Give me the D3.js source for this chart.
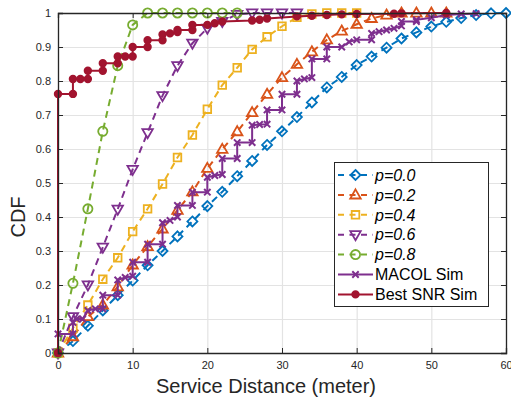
<!DOCTYPE html>
<html>
<head>
<meta charset="utf-8">
<script src="https://cdn.jsdelivr.net/npm/d3@7"></script>
<style>
  body { margin: 0; background: #fff; }
  svg { display: block; font-family: "Liberation Sans", Arial, Helvetica, sans-serif; }
</style>
</head>
<body>
<svg id="chart" width="511" height="398"></svg>
<script>
// data
const distP00 = [0,2,4,6,8,10,12,14,16,18,20,22,24,26,28,30,32,34,36,38,40,42,44,46,48,50,52,54,56,58,60];
const cdfP00 = [0,0.035,0.08,0.125,0.17,0.213,0.258,0.30,0.343,0.387,0.432,0.474,0.52,0.565,0.612,0.652,0.694,0.737,0.781,0.812,0.847,0.872,0.898,0.925,0.943,0.96,0.974,0.985,0.994,0.999,1.0];

const distP02 = [0,2,4,6,8,10,12,14,16,18,20,22,24,26,28,30,32,34,36,38,40,42,44,46,48,50,52];
const cdfP02 = [0,0.048,0.107,0.141,0.195,0.259,0.313,0.365,0.42,0.474,0.543,0.599,0.651,0.707,0.761,0.81,0.849,0.886,0.921,0.947,0.967,0.984,0.994,1,1,1,1];

const distP04 = [0,2,4,6,8,10,12,14,16,18,20,22,24,26,28,30,32,34,36,38,40];
const cdfP04 = [0,0.073,0.141,0.217,0.28,0.357,0.424,0.497,0.575,0.641,0.717,0.788,0.839,0.893,0.93,0.961,0.987,0.997,1,1,1];

const distP06 = [0,2,4,6,8,10,12,14,16,18,20,22,24,26,28,30,32];
const cdfP06 = [0,0.107,0.2,0.311,0.423,0.54,0.648,0.757,0.845,0.911,0.955,0.975,0.996,1,1,1,1];

const distP08 = [0,2,4,6,8,10,12,14,16,18,20,22,24];
const cdfP08 = [0,0.205,0.424,0.652,0.845,0.965,1,1,1,1,1,1,1];

const distMacol = [0,0,2,2,2.5,3.3,4,5,6,6,8,8,9,10,10,12,12,14,14,15,16,16,18,18,20,20,21,22,22,24,24,26,26,27,28,28,30,30,32,32,33,34,34,36,36,38,39,40,42,42,43,44,45,46,46,48,48,50,52,54,56];
const cdfMacol = [0,0.056,0.056,0.09,0.1,0.1,0.125,0.13,0.13,0.17,0.17,0.215,0.222,0.226,0.267,0.267,0.32,0.32,0.383,0.39,0.4,0.434,0.434,0.473,0.473,0.517,0.522,0.525,0.572,0.572,0.619,0.619,0.67,0.672,0.673,0.715,0.715,0.761,0.761,0.8,0.806,0.81,0.865,0.865,0.9,0.9,0.915,0.921,0.921,0.94,0.945,0.95,0.955,0.962,0.975,0.975,0.98,0.986,0.994,0.997,0.998];

const distSnr = [0,0,2,2,3,4,4,6,6,8,8,9,10,10,12,12,14,14,15,16,16,18,18,20,21,22,26,27,28,32,34,36,38,40,45,46,52];
const cdfSnr = [0,0.762,0.762,0.806,0.806,0.806,0.83,0.83,0.852,0.852,0.872,0.872,0.872,0.9,0.9,0.92,0.92,0.937,0.94,0.944,0.95,0.95,0.965,0.965,0.97,0.975,0.978,0.98,0.984,0.99,0.992,0.994,0.996,0.997,0.998,0.999,1];

const xTicks = [0,10,20,30,40,50,60];
const yTicks = [0,0.1,0.2,0.3,0.4,0.5,0.6,0.7,0.8,0.9,1];
const seriesNames = ["p=0.0","p=0.2","p=0.4","p=0.6","p=0.8","MACOL Sim","Best SNR Sim"];

// style
const margin = { top: 13, right: 5, bottom: 45, left: 58 };
const width = 511 - margin.left - margin.right;
const height = 398 - margin.top - margin.bottom;
const axisColor = "#262626";

const svg = d3.select("#chart");
const g = svg.append("g").attr("transform", "translate(" + margin.left + "," + margin.top + ")");

const x = d3.scaleLinear().domain([0, 60]).range([0, width]);
const y = d3.scaleLinear().domain([0, 1]).range([height, 0]);

// grid
g.append("g")
  .attr("transform", "translate(0," + height + ")")
  .call(d3.axisBottom(x).tickValues(xTicks).tickSize(-height).tickFormat(""))
  .call((s) => s.select(".domain").remove())
  .call((s) => s.selectAll("line").attr("stroke", "#e3e3e3").attr("stroke-width", 1.2));
g.append("g")
  .call(d3.axisLeft(y).tickValues(yTicks).tickSize(-width).tickFormat(""))
  .call((s) => s.select(".domain").remove())
  .call((s) => s.selectAll("line").attr("stroke", "#e3e3e3").attr("stroke-width", 1.2));

// marker shapes
function markerPath(kind, r) {
  if (kind === "diamond") return "M0," + (-r) + "L" + r + ",0L0," + r + "L" + (-r) + ",0Z";
  if (kind === "up") return "M0," + (-r) + "L" + (r * 0.95) + "," + (r * 0.65) + "L" + (-r * 0.95) + "," + (r * 0.65) + "Z";
  if (kind === "down") return "M0," + r + "L" + (r * 0.95) + "," + (-r * 0.65) + "L" + (-r * 0.95) + "," + (-r * 0.65) + "Z";
  if (kind === "square") return "M" + (-r) + "," + (-r) + "H" + r + "V" + r + "H" + (-r) + "Z";
  if (kind === "x") return "M" + (-r) + "," + (-r) + "L" + r + "," + r + "M" + (-r) + "," + r + "L" + r + "," + (-r);
  return null;
}

const series = [
  { name: seriesNames[0], xs: distP00, ys: cdfP00, color: "#0072BD", dash: "7,5", marker: "diamond", size: 5 },
  { name: seriesNames[1], xs: distP02, ys: cdfP02, color: "#D95319", dash: "7,5", marker: "up", size: 5.5 },
  { name: seriesNames[2], xs: distP04, ys: cdfP04, color: "#EDB120", dash: "7,5", marker: "square", size: 3.8 },
  { name: seriesNames[3], xs: distP06, ys: cdfP06, color: "#7E2F8E", dash: "7,5", marker: "down", size: 5.5 },
  { name: seriesNames[4], xs: distP08, ys: cdfP08, color: "#77AC30", dash: "7,5", marker: "circle", size: 4.6 },
  { name: seriesNames[5], xs: distMacol, ys: cdfMacol, color: "#7E2F8E", dash: null, marker: "x", size: 3.2 },
  { name: seriesNames[6], xs: distSnr, ys: cdfSnr, color: "#A2142F", dash: null, marker: "dot", size: 3.3 },
];

function drawMarker(sel, s) {
  if (s.marker === "circle" || s.marker === "dot") {
    sel.append("circle").attr("r", s.size)
      .attr("fill", s.marker === "dot" ? s.color : "none")
      .attr("stroke", s.color).attr("stroke-width", 1.8);
  } else {
    sel.append("path").attr("d", markerPath(s.marker, s.size))
      .attr("fill", "none").attr("stroke", s.color)
      .attr("stroke-width", s.marker === "x" ? 2 : 1.8)
      .attr("stroke-linejoin", "miter");
  }
}

const line = d3.line().x((d) => x(d[0])).y((d) => y(d[1]));

series.forEach((s) => {
  const pts = s.xs.map((v, i) => [v, s.ys[i]]);
  const sg = g.append("g");
  sg.append("path")
    .datum(pts)
    .attr("d", line)
    .attr("fill", "none")
    .attr("stroke", s.color)
    .attr("stroke-width", 2)
    .attr("stroke-dasharray", s.dash);
  sg.selectAll("g.mk")
    .data(pts)
    .enter()
    .append("g")
    .attr("class", "mk")
    .attr("transform", (d) => "translate(" + x(d[0]) + "," + y(d[1]) + ")")
    .each(function () { drawMarker(d3.select(this), s); });
});

// axes (box, ticks inside)
const tickLen = 5;
const xAxis = g.append("g")
  .attr("transform", "translate(0," + height + ")")
  .call(d3.axisBottom(x).tickValues(xTicks).tickSize(-tickLen).tickPadding(9).tickFormat(d3.format("d")));
const yAxis = g.append("g")
  .call(d3.axisLeft(y).tickValues(yTicks).tickSize(-tickLen).tickPadding(7).tickFormat((d) => d === 0 || d === 1 ? String(d) : d3.format(".1f")(d)));
const xTop = g.append("g")
  .call(d3.axisTop(x).tickValues(xTicks).tickSize(-tickLen).tickFormat(""));
const yRight = g.append("g")
  .attr("transform", "translate(" + width + ",0)")
  .call(d3.axisRight(y).tickValues(yTicks).tickSize(-tickLen).tickFormat(""));

[xAxis, yAxis, xTop, yRight].forEach((a) => {
  a.select(".domain").attr("stroke", axisColor).attr("stroke-width", 1.3);
  a.selectAll(".tick line").attr("stroke", axisColor).attr("stroke-width", 1);
  a.selectAll("text").attr("fill", axisColor).style("font-size", "11px");
});
xAxis.selectAll("text").attr("dy", "0.6em");

// axis labels
svg.append("text")
  .attr("x", 266)
  .attr("y", 393)
  .attr("text-anchor", "middle")
  .attr("fill", axisColor)
  .style("font-size", "20px")
  .text("Service Distance (meter)");
svg.append("text")
  .attr("transform", "translate(25,217) rotate(-90)")
  .attr("text-anchor", "middle")
  .attr("fill", axisColor)
  .style("font-size", "20px")
  .text("CDF");

// legend
const legend = svg.append("g");
legend.append("rect")
  .attr("x", 334.5).attr("y", 162.5)
  .attr("width", 154).attr("height", 144)
  .attr("fill", "#fff")
  .attr("stroke", axisColor)
  .attr("stroke-width", 1);
series.forEach((s, i) => {
  const ly = 175 + i * 19.9;
  const row = legend.append("g");
  row.append("line")
    .attr("x1", 338).attr("x2", 373)
    .attr("y1", ly).attr("y2", ly)
    .attr("stroke", s.color).attr("stroke-width", 2)
    .attr("stroke-dasharray", s.dash ? "6,5.5" : null);
  const mg = row.append("g").attr("transform", "translate(355.5," + ly + ")");
  drawMarker(mg, s);
  row.append("text")
    .attr("x", 375)
    .attr("y", ly)
    .attr("dy", "0.36em")
    .attr("fill", "#000")
    .style("font-size", "16px")
    .style("font-style", s.dash ? "italic" : "normal")
    .text(s.name);
});
</script>
</body>
</html>
